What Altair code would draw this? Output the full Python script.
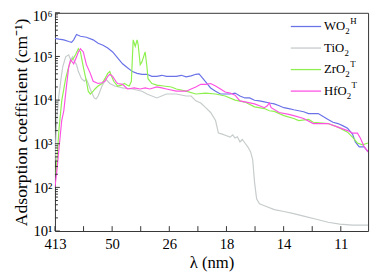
import altair as alt
import pandas as pd

# ---------------- data (photon energy in eV, absorption coefficient in cm^-1) ----------------
series_names = ["WO2H", "TiO2", "ZrO2T", "HfO2T"]
series_colors = ["#6A72E8", "#C6CBCB", "#8DF04F", "#FF52E3"]

wo2_ev = [3.0, 4.5, 6.4, 8.3, 9.4, 10.2, 11.3, 12.8, 15.1, 17.7, 19.6, 21.5, 23.3, 25.2, 27.1, 29.0,
          30.9, 32.8, 34.6, 36.5, 38.4, 40.3, 42.2, 44.1, 45.9, 47.8, 49.7, 51.6, 53.5, 55.4, 57.2,
          58.4, 59.1, 61.0, 62.9, 64.8, 66.7, 68.5, 70.4, 72.3, 74.2, 76.1, 77.9, 79.8, 81.7, 83.6,
          85.5, 87.4, 89.3, 91.1, 93.0, 94.9, 96.8, 98.7, 100.6, 102.4, 104.3, 106.2, 108.1, 110.0,
          111.9, 113.7, 115.6, 117.5, 118.6, 120.1, 122.0, 123.5]
wo2_val = [2.6e5, 2.5e5, 2.4e5, 2.2e5, 2.1e5, 2.4e5, 3.2e5, 2.9e5, 2.75e5, 2.4e5, 2.0e5, 1.8e5, 1.56e5,
           1.27e5, 9.3e4, 6.8e4, 5.5e4, 4.5e4, 4.1e4, 3.9e4, 3.9e4, 3.5e4, 3.5e4, 3.7e4, 3.5e4, 3.5e4,
           3.5e4, 3.7e4, 3.4e4, 3.6e4, 3.9e4, 4.0e4, 3.6e4, 2.6e4, 1.9e4, 1.6e4, 1.38e4, 1.38e4, 1.38e4,
           1.45e4, 1.24e4, 1.12e4, 1.12e4, 9.9e3, 9.6e3, 9.1e3, 8.6e3, 8.2e3, 7.4e3, 6.7e3, 6.4e3, 6.0e3,
           5.7e3, 5.4e3, 4.9e3, 4.9e3, 4.9e3, 4.2e3, 3.6e3, 3.1e3, 2.9e3, 2.6e3, 2.26e3, 1.66e3, 1.1e3,
           850, 850, 650]

tio2_ev = [3.0, 3.4, 3.8, 4.5, 5.3, 6.0, 7.1, 8.3, 9.0, 9.8, 10.5, 11.3, 12.0, 13.2, 14.3, 15.1, 15.8,
           16.9, 18.1, 18.8, 19.6, 21.1, 22.6, 24.1, 26.0, 29.0, 32.8, 36.5, 38.4, 42.2, 45.9, 49.7,
           53.5, 55.4, 57.2, 59.1, 61.0, 62.9, 64.8, 65.9, 67.4, 68.5, 70.4, 71.4, 72.3, 73.2, 74.2,
           75.1, 76.1, 77.2, 78.3, 79.1, 79.8, 80.6, 81.7, 83.6, 87.4, 91.1, 94.9, 98.7, 103.6, 108.1,
           112.6, 117.5, 123.5]
tio2_val = [400, 1.5e3, 4.4e3, 1.24e4, 3.0e4, 5.8e4, 9.8e4, 1.09e5, 8.4e4, 9.8e4, 7.6e4, 6.5e4, 4.5e4,
            3.1e4, 2.7e4, 3.0e4, 2.4e4, 1.6e4, 1.12e4, 1.06e4, 1.24e4, 2.1e4, 3.0e4, 2.4e4, 2.1e4,
            1.9e4, 1.8e4, 1.6e4, 1.38e4, 1.12e4, 1.38e4, 1.38e4, 1.24e4, 1.24e4, 9.6e3, 8.6e3, 6.7e3,
            5.2e3, 3.4e3, 1.75e3, 1.66e3, 1.57e3, 1.42e3, 1.6e3, 1.35e3, 1.45e3, 1.1e3, 1.25e3, 1.04e3,
            850, 650, 430, 132, 55, 42, 38, 31, 28, 25, 22, 18.6, 15.9, 14.4, 13.6, 13.6]

zro2_ev = [3.4, 4.5, 5.6, 7.1, 8.3, 9.0, 10.2, 10.9, 12.0, 12.8, 13.9, 15.1, 15.8, 16.6, 17.7, 18.4,
           19.6, 21.1, 22.2, 23.3, 24.1, 24.8, 25.6, 27.1, 28.6, 29.7, 30.9, 31.6, 32.4, 33.1, 33.9,
           34.6, 35.0, 35.8, 36.5, 37.7, 38.4, 38.8, 40.3, 42.2, 44.8, 47.8, 49.7, 53.5, 57.2, 61.0,
           64.8, 68.5, 72.3, 76.1, 79.8, 83.6, 85.5, 87.4, 91.1, 94.9, 96.8, 100.6, 102.4, 108.1,
           111.9, 115.6, 117.5, 119.4, 121.3, 123.5]
zro2_val = [200, 2.0e3, 9.6e3, 3.1e4, 5.8e4, 7.6e4, 9.3e4, 1.09e5, 1.5e5, 1.27e5, 5.8e4, 2.7e4, 1.6e4,
            1.38e4, 1.6e4, 1.8e4, 2.1e4, 2.4e4, 3.1e4, 4.1e4, 4.5e4, 3.5e4, 2.7e4, 2.1e4, 2.2e4, 2.4e4,
            2.2e4, 2.1e4, 2.7e4, 2.4e5, 1.7e5, 2.4e5, 1.9e5, 6.5e4, 7.6e4, 1.27e5, 5.8e4, 3.1e4, 2.4e4,
            2.2e4, 2.1e4, 2.0e4, 1.8e4, 1.6e4, 1.38e4, 1.45e4, 1.38e4, 1.24e4, 1.0e4, 9.0e3, 7.0e3,
            6.4e3, 5.7e3, 5.5e3, 4.4e3, 3.8e3, 3.4e3, 3.6e3, 3.1e3, 2.9e3, 2.4e3, 1.84e3, 1.42e3,
            1.04e3, 940, 1.04e3]

hfo2_ev = [3.0, 3.8, 4.5, 5.6, 6.4, 7.5, 8.3, 9.0, 10.2, 11.3, 12.0, 12.8, 13.9, 15.1, 16.6, 17.7,
           19.6, 21.1, 22.2, 23.3, 24.1, 25.2, 26.4, 27.1, 29.0, 30.9, 33.5, 35.8, 37.7, 39.5, 42.2,
           44.1, 45.9, 49.7, 53.5, 55.4, 57.2, 59.1, 61.0, 62.9, 64.8, 66.7, 68.5, 70.4, 72.3, 74.2,
           76.1, 79.8, 81.7, 83.6, 84.7, 85.5, 86.2, 89.3, 93.0, 94.9, 98.7, 102.4, 108.1, 111.9,
           115.6, 117.5, 119.4, 120.5, 122.0, 123.5]
hfo2_val = [102, 260, 730, 3.4e3, 5.7e3, 2.3e4, 5.8e4, 8.4e4, 6.8e4, 9.8e4, 1.27e5, 1.5e5, 1.27e5,
            6.5e4, 4.1e4, 2.7e4, 2.4e4, 2.5e4, 2.7e4, 3.5e4, 3.9e4, 3.5e4, 2.7e4, 2.4e4, 2.3e4, 1.8e4,
            1.9e4, 1.8e4, 1.9e4, 1.8e4, 2.0e4, 1.9e4, 1.8e4, 1.6e4, 1.6e4, 1.8e4, 2.0e4, 2.3e4, 2.3e4,
            2.4e4, 2.1e4, 1.8e4, 1.53e4, 1.45e4, 1.3e4, 9.6e3, 9.1e3, 8.2e3, 7.4e3, 6.7e3, 7.4e3,
            8.6e3, 6.7e3, 5.2e3, 4.7e3, 4.4e3, 3.8e3, 2.9e3, 2.9e3, 2.4e3, 2.0e3, 1.75e3, 1.75e3,
            1.35e3, 850, 650]

# axis ticks: energies (eV) that correspond to the wavelength labels
x_tick_ev = [3, 25, 47, 69, 91, 113]
x_tick_labels = ["413", "50", "26", "18", "14", "11"]
x_minor_ev = [14, 36, 58, 80, 102]
y_major = [10, 100, 1000, 10000, 100000, 1000000]
y_sup = ["¹", "²", "³", "⁴", "⁵", "⁶"]

# legend text pieces: main text, subscript, superscript
legend_main = ["WO", "TiO", "ZrO", "HfO"]
legend_sub = ["2", "2", "2", "2"]
legend_sup = ["H", "", "T", "T"]

# ---------------- build ----------------
W, H = 320, 223
FONT = "Liberation Serif"

all_series = [(wo2_ev, wo2_val), (tio2_ev, tio2_val), (zro2_ev, zro2_val), (hfo2_ev, hfo2_val)]
rows = []
for name, (evs, vals) in zip(series_names, all_series):
    assert len(evs) == len(vals), name
    for i, (e, v) in enumerate(zip(evs, vals)):
        rows.append({"series": name, "ev": e, "alpha": v, "idx": i})
df = pd.DataFrame(rows)

x_scale = alt.Scale(domain=[3, 123.5], nice=False, zero=False)
y_scale = alt.Scale(type="log", domain=[10, 1e6], nice=False)

x_label_expr = "[" + ",".join("'%s'" % s for s in x_tick_labels) + "][indexof([" + \
    ",".join(str(v) for v in x_tick_ev) + "], datum.value)]"
y_label_expr = "'10' + [" + ",".join("'%s'" % s for s in y_sup) + "][round(log(datum.value)/LN10) - 1]"

x_axis = alt.Axis(values=x_tick_ev, labelExpr=x_label_expr, title="λ (nm)",
                  ticks=False, tickSize=0, domain=False, grid=False, labelPadding=6,
                  labelFlush=False, labelOverlap=False,
                  labelFontSize=15, titleFontSize=17, titlePadding=3,
                  labelFont=FONT, titleFont=FONT, labelColor="black",
                  titleColor="black", titleFontWeight="normal")
y_axis = alt.Axis(values=y_major, labelExpr=y_label_expr,
                  title="Adsorption coefficient (cm⁻¹)",
                  ticks=False, tickSize=0, domain=False, grid=False, labelPadding=3,
                  labelFlush=False, labelOverlap=False,
                  labelOffset={"condition": {"test": "datum.value >= 1000000", "value": 3},
                               "value": 0},
                  labelFontSize=15, titleFontSize=18, titlePadding=2,
                  labelFont=FONT, titleFont=FONT, labelColor="black",
                  titleColor="black", titleFontWeight="normal")

lines = alt.Chart(df).mark_line(strokeWidth=1.2, clip=True).encode(
    x=alt.X("ev:Q", scale=x_scale, axis=x_axis),
    y=alt.Y("alpha:Q", scale=y_scale, axis=y_axis),
    color=alt.Color("series:N", scale=alt.Scale(domain=series_names, range=series_colors),
                    legend=None),
    order=alt.Order("idx:Q"),
)

tick_color = "#333333"
x_ticks = alt.Chart(pd.DataFrame({"ev": x_tick_ev + x_minor_ev})).mark_rule(
    color=tick_color, strokeWidth=1).encode(
    x=alt.X("ev:Q", scale=x_scale, axis=x_axis),
    y=alt.value(H), y2=alt.value(H - 5))

y_minor = [m * d for d in y_major[:-1] for m in range(2, 10)]
y_ticks_major = alt.Chart(pd.DataFrame({"alpha": y_major})).mark_rule(
    color=tick_color, strokeWidth=1).encode(
    y=alt.Y("alpha:Q", scale=y_scale, axis=y_axis), x=alt.value(0), x2=alt.value(5))
y_ticks_minor = alt.Chart(pd.DataFrame({"alpha": y_minor})).mark_rule(
    color=tick_color, strokeWidth=1).encode(
    y=alt.Y("alpha:Q", scale=y_scale, axis=y_axis), x=alt.value(0), x2=alt.value(3))

# manual legend (top right, inside)
one = pd.DataFrame({"a": [0]})
legend_layers = []
main_w = {"WO": 21.7, "TiO": 20.9, "ZrO": 21.7, "HfO": 23.1}
for i, name in enumerate(series_names):
    yy = 14 + 22 * i
    legend_layers.append(alt.Chart(one).mark_rule(color=series_colors[i], strokeWidth=1.3).encode(
        x=alt.value(241), x2=alt.value(272), y=alt.value(yy)))
    legend_layers.append(alt.Chart(one).mark_text(
        align="left", baseline="middle", font=FONT, fontSize=13, color="black").encode(
        x=alt.value(275), y=alt.value(yy), text=alt.value(legend_main[i])))
    xs = 275 + main_w[legend_main[i]]
    legend_layers.append(alt.Chart(one).mark_text(
        align="left", baseline="middle", font=FONT, fontSize=9, color="black").encode(
        x=alt.value(xs), y=alt.value(yy + 5), text=alt.value(legend_sub[i])))
    if legend_sup[i]:
        legend_layers.append(alt.Chart(one).mark_text(
            align="left", baseline="middle", font=FONT, fontSize=9, color="black").encode(
            x=alt.value(xs + 5), y=alt.value(yy - 6), text=alt.value(legend_sup[i])))

chart = alt.layer(lines, x_ticks, y_ticks_major, y_ticks_minor, *legend_layers).properties(
    width=W, height=H,
    autosize=alt.AutoSizeParams(type="none"),
    padding={"left": 48, "top": 2, "right": 4, "bottom": 41},
).configure(background="white").configure_view(stroke="#333333", strokeWidth=1)

chart.save("out.html", embed_options={"renderer": "svg", "actions": False})
